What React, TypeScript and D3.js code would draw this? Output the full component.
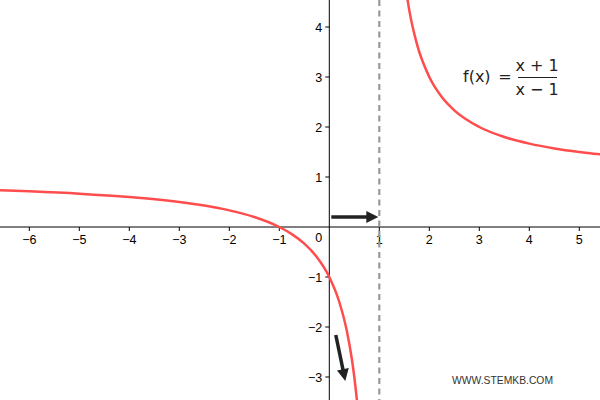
import React from "react";
import * as d3 from "d3";

const xTicks = [-6, -5, -4, -3, -2, -1, 1, 2, 3, 4, 5];
const yTicks = [-3, -2, -1, 1, 2, 3, 4];

// points (left branch)
const leftX = [-6.6, -6, -5, -4, -3, -2.5, -2, -1.5, -1, -0.75, -0.5, -0.25, 0, 0.2, 0.35, 0.45, 0.5, 0.55, 0.57];
const leftY = [0.737, 0.714, 0.667, 0.6, 0.5, 0.429, 0.333, 0.2, 0, -0.143, -0.333, -0.6, -1, -1.5, -2.077, -2.636, -3, -3.444, -3.651];
// right branch
const rightX = [1.53, 1.6, 1.75, 2, 2.25, 2.5, 3, 3.5, 4, 4.5, 5, 5.5];
const rightY = [4.774, 4.333, 3.667, 3, 2.6, 2.333, 2, 1.8, 1.667, 1.571, 1.5, 1.444];

const asymptoteX = 1;
const arrows = [
  { x1: 0.04, y1: 0.2, x2: 0.98, y2: 0.2 },
  { x1: 0.13, y1: -2.16, x2: 0.32, y2: -3.08 },
];

const W = 600, H = 400;

export default function App() {
  const x = d3.scaleLinear().domain([-6.586, 5.414]).range([0, W]);
  const y = d3.scaleLinear().domain([4.54, -3.46]).range([0, H]);
  const line = d3
    .line<[number, number]>()
    .x((d) => x(d[0]))
    .y((d) => y(d[1]))
    .curve(d3.curveMonotoneX);
  const left = line(leftX.map((v, i) => [v, leftY[i]] as [number, number])) || "";
  const right = line(rightX.map((v, i) => [v, rightY[i]] as [number, number])) || "";
  const x0 = x(0), y0 = y(0);
  const font = "'Liberation Sans', Arial, sans-serif";
  const mathFont = "'DejaVu Sans', sans-serif";

  const arrowEls = arrows.map((a, i) => {
    const px1 = x(a.x1), py1 = y(a.y1), px2 = x(a.x2), py2 = y(a.y2);
    const ang = Math.atan2(py2 - py1, px2 - px1);
    const L = 12, Wd = 6;
    const bx = px2 - L * Math.cos(ang), by = py2 - L * Math.sin(ang);
    const nx = -Math.sin(ang), ny = Math.cos(ang);
    const pts = `${px2},${py2} ${bx + nx * Wd},${by + ny * Wd} ${bx - nx * Wd},${by - ny * Wd}`;
    return (
      <g key={i}>
        <line x1={px1} y1={py1} x2={bx + Math.cos(ang)} y2={by + Math.sin(ang)} stroke="#222" strokeWidth={3.5} />
        <polygon points={pts} fill="#222" />
      </g>
    );
  });

  return (
    <svg width={W} height={H} style={{ position: "absolute", left: 0, top: 0, background: "#fff" }}>
      <defs>
        <clipPath id="plot">
          <rect x={0} y={0} width={W} height={H} />
        </clipPath>
      </defs>
      <rect x={0} y={0} width={W} height={H} fill="#fff" />
      {/* axes */}
      <line x1={0} x2={W} y1={y0} y2={y0} stroke="#000" strokeWidth={1} />
      <line x1={x0} x2={x0} y1={0} y2={H} stroke="#000" strokeWidth={1} />
      {xTicks.map((t) => (
        <g key={"x" + t}>
          <line x1={x(t)} x2={x(t)} y1={y0} y2={y0 + 4} stroke="#000" />
          <text x={x(t)} y={y0 + 17} textAnchor="middle" fontFamily={font} fontSize={12.5} fill="#000">
            {t < 0 ? "\u2212" + Math.abs(t) : t}
          </text>
        </g>
      ))}
      {yTicks.map((t) => (
        <g key={"y" + t}>
          <line x1={x0 - 4} x2={x0} y1={y(t)} y2={y(t)} stroke="#000" />
          <text x={x0 - 7} y={y(t) + 4.5} textAnchor="end" fontFamily={font} fontSize={12.5} fill="#000">
            {t < 0 ? "\u2212" + Math.abs(t) : t}
          </text>
        </g>
      ))}
      <text x={x0 - 7} y={y0 + 15} textAnchor="end" fontFamily={font} fontSize={12.5} fill="#000">0</text>
      {/* asymptote */}
      <line x1={x(asymptoteX)} x2={x(asymptoteX)} y1={0} y2={H} stroke="#999" strokeWidth={2.2} strokeDasharray="6,4.5" />
      {/* curves */}
      <g clipPath="url(#plot)">
        <path d={left} fill="none" stroke="#ff4d4d" strokeWidth={2.5} />
        <path d={right} fill="none" stroke="#ff4d4d" strokeWidth={2.5} />
      </g>
      {arrowEls}
      {/* formula */}
      <g fontFamily={mathFont} fontSize={16} fill="#222">
        <text x={463} y={82}>f(x)</text>
        <text x={505} y={82} textAnchor="middle">=</text>
        <text x={537} y={71} textAnchor="middle">x + 1</text>
        <line x1={518} x2={557} y1={77.5} y2={77.5} stroke="#222" strokeWidth={1} />
        <text x={537} y={95} textAnchor="middle">x − 1</text>
      </g>
      <text x={452} y={384} fontFamily={font} fontSize={11.5} fill="#333" textLength={101} lengthAdjust="spacingAndGlyphs">WWW.STEMKB.COM</text>
    </svg>
  );
}
